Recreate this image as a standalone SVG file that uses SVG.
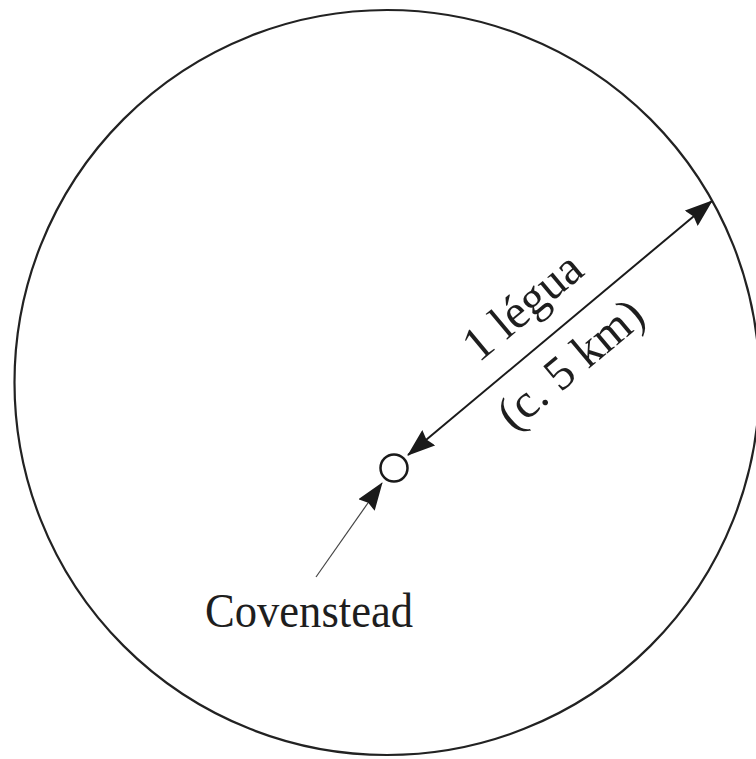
<svg xmlns="http://www.w3.org/2000/svg" width="756" height="759" viewBox="0 0 756 759">
  <style>
    .lbl { font-family: "Liberation Serif", "Times New Roman", serif; font-size: 48px; fill: #1e1e1e; }
    .ring { fill: none; stroke: #222; stroke-width: 2.2; }
  </style>
  <defs>
    <marker id="head" viewBox="0 0 28 20" refX="27" refY="10" markerWidth="28" markerHeight="20" markerUnits="userSpaceOnUse" orient="auto-start-reverse">
      <path d="M0,0 L28,10 L0,20 L3,10 Z" fill="#1a1a1a"/>
    </marker>
  </defs>
  <rect width="756" height="759" fill="#fff"/>
  <g id="boundary">
    <circle class="ring" cx="387" cy="382.5" r="372.5"/>
  </g>
  <g id="connectors">
    <line x1="408" y1="455" x2="712" y2="201" stroke="#1a1a1a" stroke-width="2" marker-start="url(#head)" marker-end="url(#head)"/>
    <line x1="316" y1="577" x2="382" y2="483" stroke="#444" stroke-width="1.2" marker-end="url(#head)"/>
  </g>
  <g id="covenstead">
    <circle cx="394" cy="468" r="13.5" fill="#fff" stroke="#1a1a1a" stroke-width="2.5"/>
  </g>
  <g id="radius-label" transform="translate(408 455) rotate(-39.9)">
    <text class="lbl" x="183" y="-25" text-anchor="middle">1 légua</text>
    <text class="lbl" x="183" y="50" text-anchor="middle">(c. 5 km)</text>
  </g>
  <g id="covenstead-label">
    <text class="lbl" x="205" y="627" textLength="208" lengthAdjust="spacingAndGlyphs">Covenstead</text>
  </g>
</svg>
